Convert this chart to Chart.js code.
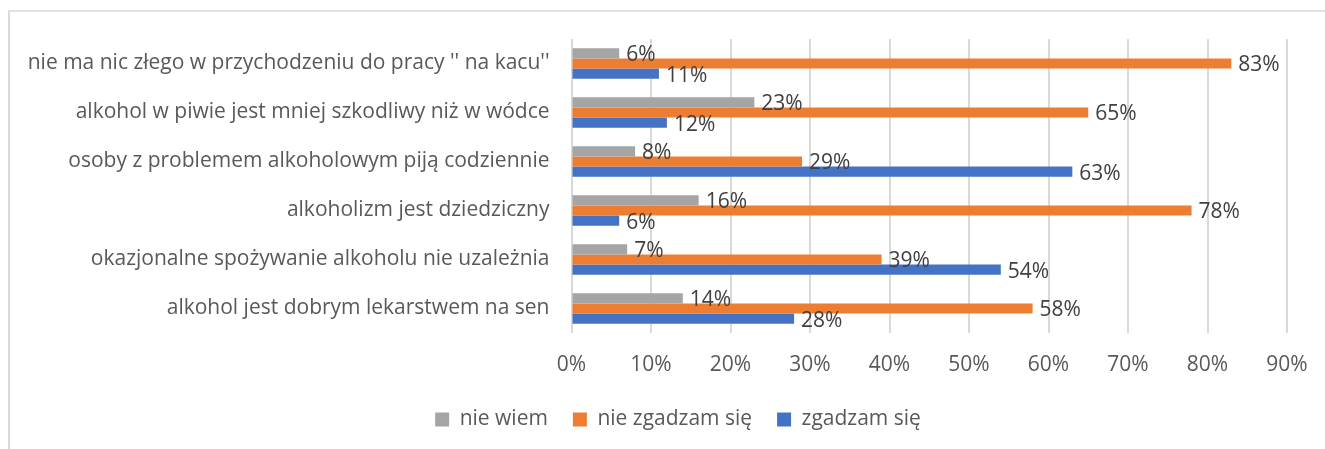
<!DOCTYPE html>
<html>
<head>
<meta charset="utf-8">
<script src="https://cdn.jsdelivr.net/npm/chart.js@4"></script>
<style>
  html, body { margin: 0; padding: 0; background: #ffffff; }
  #wrap { position: relative; width: 1325px; height: 449px; overflow: hidden; }
  #frame { position: absolute; left: 8px; top: 10px; width: 1400px; height: 500px;
           border-left: 2px solid #d9d9d9; border-top: 2px solid #e2e2e2; pointer-events: none; }
  canvas { position: absolute; left: 0; top: 0; }
</style>
</head>
<body>
<div id="wrap">
  <canvas id="c" width="1325" height="449"></canvas>
  <div id="frame"></div>
</div>
<script>
const categories = [
  "nie ma nic złego w przychodzeniu do pracy '' na kacu''",
  "alkohol w piwie jest mniej szkodliwy niż w wódce",
  "osoby z problemem alkoholowym piją codziennie",
  "alkoholizm jest dziedziczny",
  "okazjonalne spożywanie alkoholu nie uzależnia",
  "alkohol jest dobrym lekarstwem na sen"
];
const seriesNames = ["nie wiem", "nie zgadzam się", "zgadzam się"];
const nieWiem = [6, 23, 8, 16, 7, 14];
const nieZgadzamSie = [83, 65, 29, 78, 39, 58];
const zgadzamSie = [11, 12, 63, 6, 54, 28];
const tickLabels = ["0%", "10%", "20%", "30%", "40%", "50%", "60%", "70%", "80%", "90%"];
const seriesColors = ["#A5A5A5", "#ED7D31", "#4472C4"];

const FONT = "'Open Sans', 'Noto Sans', sans-serif";

const valueLabels = {
  id: 'valueLabels',
  afterDatasetsDraw(chart) {
    const ctx = chart.ctx;
    ctx.save();
    ctx.font = "21px " + FONT;
    ctx.fillStyle = "#404040";
    ctx.textAlign = "left";
    ctx.textBaseline = "middle";
    chart.data.datasets.forEach((ds, i) => {
      const meta = chart.getDatasetMeta(i);
      meta.data.forEach((el, j) => {
        ctx.fillText(ds.data[j] + "%", el.x + 7, el.y + 2);
      });
    });
    ctx.restore();
  }
};

// shift the library legend so it is centred like the original
const legendShift = {
  id: 'legendShift',
  afterLayout(chart) {
    if (chart.legend) { chart.legend.left += 69; }
  }
};

new Chart(document.getElementById('c'), {
  type: 'bar',
  data: {
    labels: categories,
    datasets: [
      { label: seriesNames[0], data: nieWiem, backgroundColor: seriesColors[0] },
      { label: seriesNames[1], data: nieZgadzamSie, backgroundColor: seriesColors[1] },
      { label: seriesNames[2], data: zgadzamSie, backgroundColor: seriesColors[2] }
    ]
  },
  options: {
    indexAxis: 'y',
    responsive: false,
    animation: false,
    devicePixelRatio: 1,
    categoryPercentage: 0.62,
    barPercentage: 1.0,
    layout: { padding: { top: 39, right: 38, left: 0, bottom: 9 } },
    scales: {
      x: {
        min: 0, max: 90,
        afterFit: (scale) => { scale.height = 51; },
        ticks: {
          stepSize: 10,
          padding: 16,
          color: "#595959",
          font: { family: FONT, size: 21, lineHeight: 1.52 },
          callback: (v, idx) => tickLabels[idx]
        },
        grid: { color: "#d9d9d9", lineWidth: 2, drawTicks: false },
        border: { display: false }
      },
      y: {
        afterFit: (scale) => { scale.width = 571.5; },
        ticks: {
          padding: 22,
          color: "#595959",
          font: { family: FONT, size: 21 }
        },
        grid: { display: false, drawTicks: false },
        border: { display: false }
      }
    },
    plugins: {
      legend: {
        position: 'bottom',
        labels: {
          boxWidth: 14,
          boxHeight: 14,
          padding: 25,
          color: "#595959",
          font: { family: FONT, size: 21 }
        }
      },
      tooltip: { enabled: false }
    }
  },
  plugins: [valueLabels, legendShift]
});
</script>
</body>
</html>
